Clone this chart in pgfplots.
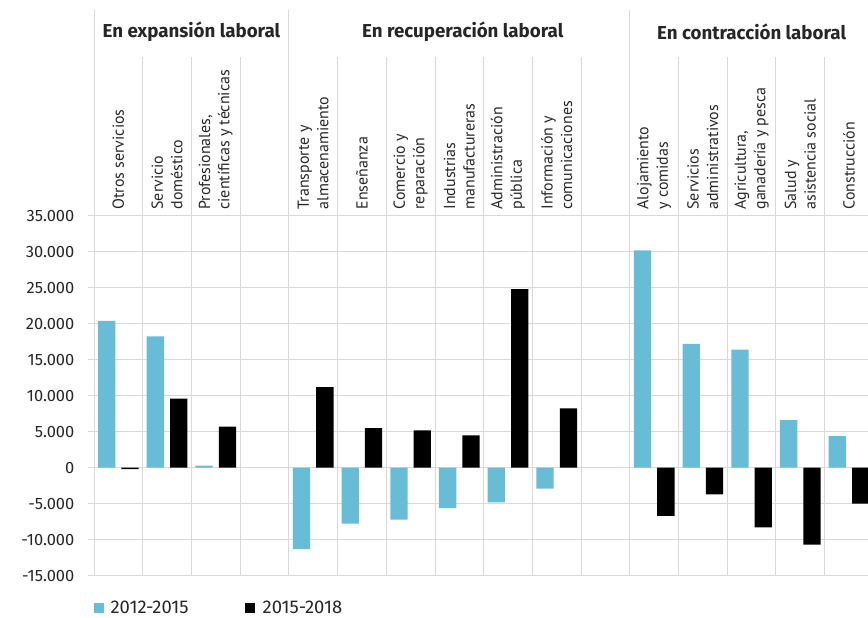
\documentclass[border=0pt]{standalone}
\usepackage{pgfplots}
\pgfplotsset{compat=1.18}
\usepackage{fontspec}
\setmainfont{PT Sans}
\newfontfamily\fira{Fira Sans}
\definecolor{cblue}{HTML}{68BCD6}
\definecolor{gridc}{HTML}{D9D9D9}
\definecolor{txt}{HTML}{262626}

\pgfplotstableread{
x   a      b
0   20400  -200
1   18250  9600
2   300    5700
4   -11300 11200
5   -7750  5500
6   -7200  5200
7   -5600  4500
8   -4800  24800
9   -2900  8250
11  30200  -6700
12  17200  -3700
13  16400  -8300
14  6600   -10700
15  4400   -5000
}\datatable

\begin{document}
\begin{tikzpicture}
\useasboundingbox (0,0) rectangle (868bp,618bp);
\begin{axis}[
  at={(94bp,42.3bp)}, anchor=south west,
  scale only axis, width=774bp, height=360bp,
  xmin=-0.5, xmax=15.39,
  ymin=-15000, ymax=35000,
  clip=false,
  axis line style={draw=none},
  ytick={-15000,-10000,...,35000},
  scaled y ticks=false,
  ymajorgrids,
  grid style={gridc, line width=0.9bp},
  ytick pos=left,
  tick align=outside,
  major tick length=6bp,
  ytick style={gridc, line width=0.9bp},
  yticklabel style={font=\fira\fontsize{16.5}{20}\selectfont, text=txt, inner sep=0pt, xshift=-13.5bp},
  /pgf/number format/.cd, 1000 sep={.}, assume math mode=true,
  /pgfplots/.cd,
  xtick={0,1,2,4,5,6,7,8,9,11,12,13,14,15},
  xticklabels={
    {Otros servicios},
    {Servicio\\doméstico},
    {Profesionales,\\científicas y técnicas},
    {Transporte y\\almacenamiento},
    {Enseñanza},
    {Comercio y\\reparación},
    {Industrias\\manufactureras},
    {Administración\\pública},
    {Información y\\comunicaciones},
    {Alojamiento\\y comidas},
    {Servicios\\administrativos},
    {Agricultura,\\ganadería y pesca},
    {Salud y\\asistencia social},
    {Construcción}},
  xticklabel pos=upper,
  xtick style={draw=none},
  xticklabel style={rotate=90, anchor=west, align=left, inner sep=0pt,
    font=\fontsize{16}{19.5}\selectfont, text=txt},
  ybar,
  bar width=0.355,
  legend columns=2,
  legend style={at={(-0.004,-0.09)}, anchor=west, draw=none, fill=none,
    font=\fira\fontsize{18.5}{19}\selectfont, text=txt,
    nodes={inner sep=1.5bp},
    /tikz/every even column/.append style={column sep=55bp}},
  legend image code/.code={\fill[#1] (0bp,-5bp) rectangle (10bp,5bp);},
]
\addplot[fill=cblue, draw=none, bar shift=-0.24] table[x=x, y=a] {\datatable};
\addplot[fill=black, draw=none, bar shift=0.24] table[x=x, y=b] {\datatable};
\legend{\hspace{5bp}2012-2015, \hspace{6bp}2015-2018}

\pgfplotsinvokeforeach{0.5,1.5,2.5,4.5,5.5,6.5,7.5,8.5,9.5,11.5,12.5,13.5,14.5}{
  \draw[gridc, line width=0.9bp] (axis cs:#1,-15000) -- (axis cs:#1,57040);
}
\pgfplotsinvokeforeach{-0.5,3.5,10.5}{
  \draw[gridc, line width=0.9bp] (axis cs:#1,-15000) -- (axis cs:#1,63550);
}
\node[font=\fira\bfseries\fontsize{18.8}{20}\selectfont, text=txt] at (axis cs:1.5,60600) {En expansión laboral};
\node[font=\fira\bfseries\fontsize{18.8}{20}\selectfont, text=txt] at (axis cs:7.07,60600) {En recuperación laboral};
\node[font=\fira\bfseries\fontsize{18.8}{20}\selectfont, text=txt] at (axis cs:13,60600) {En contracción laboral};
\end{axis}
\end{tikzpicture}
\end{document}
